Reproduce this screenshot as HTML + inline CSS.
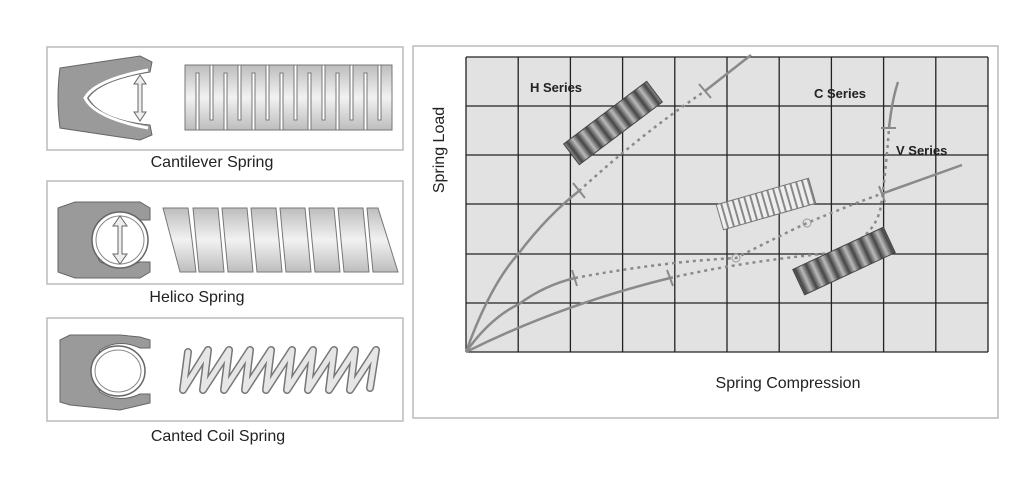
<!DOCTYPE html>
<html><head><meta charset="utf-8"><style>
html,body{margin:0;padding:0;background:#fff;}
svg{display:block;font-family:"Liberation Sans",sans-serif;}
</style></head><body>
<svg width="1021" height="477" viewBox="0 0 1021 477" xmlns="http://www.w3.org/2000/svg">
<defs>
<linearGradient id="mg" x1="0" y1="0" x2="0" y2="1">
<stop offset="0" stop-color="#bdbdbd"/><stop offset="0.5" stop-color="#f2f2f2"/><stop offset="1" stop-color="#bdbdbd"/></linearGradient>
<linearGradient id="dk" x1="0" y1="0" x2="1" y2="0">
<stop offset="0" stop-color="#444"/><stop offset="0.5" stop-color="#bbb"/><stop offset="1" stop-color="#444"/></linearGradient>
<pattern id="hp" width="12" height="30" patternUnits="userSpaceOnUse"><rect width="12" height="30" fill="url(#dk)"/></pattern>
<pattern id="cp" width="6" height="30" patternUnits="userSpaceOnUse"><rect width="6" height="30" fill="#eee"/><rect x="4" width="2" height="30" fill="#888"/></pattern>
</defs>
<rect width="1021" height="477" fill="#fff"/>

<!-- Panel 1 -->
<rect x="47" y="47" width="356" height="103" fill="#fff" stroke="#bbb" stroke-width="1.5"/>
<path d="M60,68 L140,56 L152,62 L150,72 Q100,80 88,98 Q100,120 150,125 L152,135 L140,140 L60,128 Q56,98 60,68Z" fill="#9a9a9a" stroke="#666"/>
<path d="M148,70 Q95,80 85,98 Q95,118 148,128" fill="none" stroke="#fff" stroke-width="3"/>
<path d="M140,75 L146,84 L142,84 L142,112 L146,112 L140,121 L134,112 L138,112 L138,84 L134,84Z" fill="#eee" stroke="#666"/>
<path d="M185,65 H392 V130 H185Z" fill="url(#mg)" stroke="#777"/>
<g stroke="#777" stroke-width="1" fill="#fff">
<rect x="196" y="73" width="3" height="57"/><rect x="210" y="65" width="3" height="55"/><rect x="224" y="73" width="3" height="57"/><rect x="238" y="65" width="3" height="55"/><rect x="252" y="73" width="3" height="57"/><rect x="266" y="65" width="3" height="55"/><rect x="280" y="73" width="3" height="57"/><rect x="294" y="65" width="3" height="55"/><rect x="308" y="73" width="3" height="57"/><rect x="322" y="65" width="3" height="55"/><rect x="336" y="73" width="3" height="57"/><rect x="350" y="65" width="3" height="55"/><rect x="364" y="73" width="3" height="57"/><rect x="378" y="65" width="3" height="55"/>
</g>
<text x="212" y="167" font-size="16" fill="#222" text-anchor="middle">Cantilever Spring</text>

<!-- Panel 2 -->
<rect x="47" y="181" width="356" height="103" fill="#fff" stroke="#bbb" stroke-width="1.5"/>
<path d="M58,208 L75,202 L140,202 L150,208 L150,220 L140,220 Q118,210 100,220 Q88,240 100,262 Q118,270 140,262 L150,262 L150,272 L140,278 L75,278 L58,272Z" fill="#9a9a9a" stroke="#666"/>
<circle cx="120" cy="240" r="28" fill="#fff" stroke="#666" stroke-width="1.5"/>
<circle cx="120" cy="240" r="24" fill="#fff" stroke="#888"/>
<path d="M120,216 L127,226 L122,226 L122,254 L127,254 L120,264 L113,254 L118,254 L118,226 L113,226Z" fill="#eee" stroke="#666"/>
<g fill="url(#mg)" stroke="#777">
<path d="M163,208 L188,208 L196,272 L180,272Z"/>
<path d="M193,208 L218,208 L224,272 L199,272Z"/>
<path d="M222,208 L247,208 L253,272 L228,272Z"/>
<path d="M251,208 L276,208 L282,272 L257,272Z"/>
<path d="M280,208 L305,208 L311,272 L286,272Z"/>
<path d="M309,208 L334,208 L340,272 L315,272Z"/>
<path d="M338,208 L363,208 L369,272 L344,272Z"/>
<path d="M367,208 L378,208 L398,272 L373,272Z"/>
</g>
<text x="197" y="302" font-size="16" fill="#222" text-anchor="middle">Helico Spring</text>

<!-- Panel 3 -->
<rect x="47" y="318" width="356" height="103" fill="#fff" stroke="#bbb" stroke-width="1.5"/>
<path d="M60,340 L70,335 L120,335 L140,337 L150,340 L150,348 L140,348 Q118,338 100,350 Q90,372 100,392 Q118,404 140,394 L150,394 L150,403 L120,410 L70,405 L60,402Z" fill="#9a9a9a" stroke="#666"/>
<ellipse cx="118" cy="371" rx="27" ry="25" fill="#fff" stroke="#666" stroke-width="1.5"/>
<ellipse cx="118" cy="371" rx="23" ry="21" fill="#fff" stroke="#888"/>
<polyline points="188,352 183,390 208,350 203,390 229,350 224,390 250,350 245,390 271,350 266,390 292,350 287,390 313,350 308,390 334,350 329,390 355,350 350,390 376,350 370,388" fill="none" stroke="#777" stroke-width="8" stroke-linejoin="round" stroke-linecap="round"/>
<polyline points="188,352 183,390 208,350 203,390 229,350 224,390 250,350 245,390 271,350 266,390 292,350 287,390 313,350 308,390 334,350 329,390 355,350 350,390 376,350 370,388" fill="none" stroke="#e6e6e6" stroke-width="5" stroke-linejoin="round" stroke-linecap="round"/>
<text x="218" y="441" font-size="16" fill="#222" text-anchor="middle">Canted Coil Spring</text>

<!-- Chart panel -->
<rect x="413" y="46" width="585" height="372" fill="#fff" stroke="#bbb" stroke-width="1.5"/>
<rect x="466" y="57" width="522" height="295" fill="#e2e2e2"/>
<g stroke="#222" stroke-width="1.3">
<line x1="466" y1="57" x2="988" y2="57"/><line x1="466" y1="106" x2="988" y2="106"/><line x1="466" y1="155" x2="988" y2="155"/><line x1="466" y1="204" x2="988" y2="204"/><line x1="466" y1="254" x2="988" y2="254"/><line x1="466" y1="303" x2="988" y2="303"/><line x1="466" y1="352" x2="988" y2="352"/>
<line x1="466" y1="57" x2="466" y2="352"/><line x1="518.2" y1="57" x2="518.2" y2="352"/><line x1="570.4" y1="57" x2="570.4" y2="352"/><line x1="622.6" y1="57" x2="622.6" y2="352"/><line x1="674.8" y1="57" x2="674.8" y2="352"/><line x1="727" y1="57" x2="727" y2="352"/><line x1="779.2" y1="57" x2="779.2" y2="352"/><line x1="831.4" y1="57" x2="831.4" y2="352"/><line x1="883.6" y1="57" x2="883.6" y2="352"/><line x1="935.8" y1="57" x2="935.8" y2="352"/><line x1="988" y1="57" x2="988" y2="352"/>
</g>
<!-- curves -->
<g fill="none" stroke="#8a8a8a" stroke-width="2.5">
<path d="M466,352 Q490,285 519,253 Q548,215 579,191"/>
<path d="M705,91 L751,55"/>
<path d="M466,352 Q490,318 519,304 Q545,285 575,278"/>
<path d="M881,194 L962,165"/>
<path d="M466,352 Q560,305 670,278"/>
<path d="M889,128 Q892,100 898,82"/>
</g>
<g fill="none" stroke="#8a8a8a" stroke-width="2.5" stroke-dasharray="3,4">
<path d="M579,191 Q640,135 705,91"/>
<path d="M575,278 Q660,262 736,258 Q775,238 807,223 Q850,205 881,194"/>
<path d="M670,278 Q740,262 831,253 Q875,240 881,206 Q886,170 889,128"/>
</g>
<g stroke="#8a8a8a" stroke-width="2">
<line x1="573" y1="183" x2="585" y2="198"/><line x1="699" y1="84" x2="711" y2="98"/>
<line x1="572" y1="270" x2="577" y2="286"/><line x1="667" y1="270" x2="673" y2="286"/>
<line x1="879" y1="186" x2="885" y2="202"/><line x1="881" y1="128" x2="896" y2="128"/>
</g>
<circle cx="807" cy="223" r="4" fill="none" stroke="#999"/>
<circle cx="736" cy="258" r="4" fill="none" stroke="#999"/>
<!-- springs -->
<g transform="translate(613,123) rotate(-37)"><rect x="-52" y="-13" width="104" height="26" fill="url(#hp)" stroke="#444"/></g>
<g transform="translate(766,204) rotate(-16)"><rect x="-48" y="-13" width="96" height="26" fill="url(#cp)" stroke="#777"/></g>
<g transform="translate(844,261) rotate(-25)"><rect x="-50" y="-14" width="100" height="28" fill="url(#hp)" stroke="#444"/></g>
<text x="530" y="92" font-size="13" font-weight="bold" fill="#222">H Series</text>
<text x="814" y="98" font-size="13" font-weight="bold" fill="#222">C Series</text>
<text x="896" y="155" font-size="13" font-weight="bold" fill="#222">V Series</text>
<text transform="translate(444,150) rotate(-90)" font-size="16" fill="#222" text-anchor="middle">Spring Load</text>
<text x="788" y="388" font-size="16" fill="#222" text-anchor="middle">Spring Compression</text>
</svg>
</body></html>
